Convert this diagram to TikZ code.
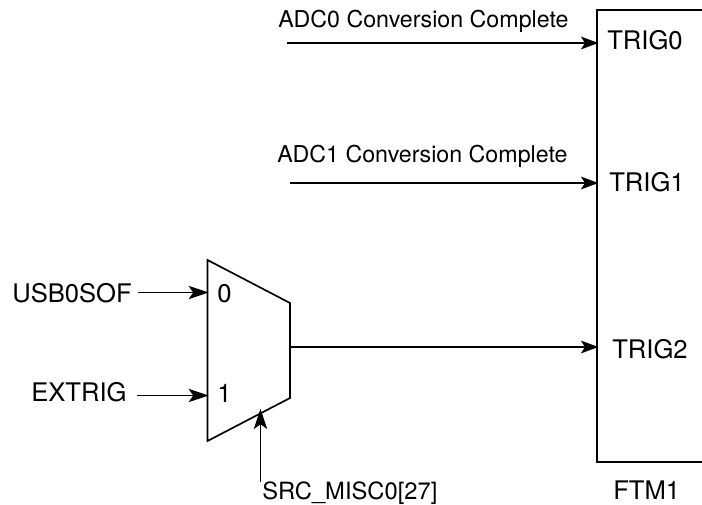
\documentclass[tikz,border=0pt]{standalone}
\usepackage{fontspec}
\setmainfont{TeX Gyre Heros}
\usetikzlibrary{arrows.meta}
\tikzset{
  px/.style={x=0.75pt,y=-0.75pt},
  lbl/.style={inner sep=0pt,font=\fontsize{19.2pt}{22pt}\selectfont,anchor=base west},
  adc/.style={lbl,font=\fontsize{17.4pt}{20pt}\selectfont},
  sel/.style={lbl,font=\fontsize{17.8pt}{20pt}\selectfont},
  wire/.style={line width=1.4pt,-{Stealth[length=13pt,width=9.5pt,inset=3pt]},shorten >=-1pt},
  thin wire/.style={line width=0.8pt,-{Stealth[length=15pt,width=10pt,inset=3.5pt]},shorten >=-0.8pt},
  shape line/.style={line width=1.25pt,line join=miter}
}
\begin{document}
\begin{tikzpicture}[px]
\useasboundingbox (0,0) rectangle (702,504);
\draw[shape line] (702,10) -- (597,10) -- (597,462) -- (702,462);
\draw[shape line] (207.5,260) -- (290,303) -- (290,398) -- (207.5,441) -- cycle;
\coordinate (m0) at (207.5,292.5);
\coordinate (m1) at (207.5,395.5);
\coordinate (mo) at (290,347);
\coordinate (ms) at (260.5,410);
\coordinate (t0) at (597,43);
\coordinate (t1) at (597,183);
\coordinate (t2) at (597,347);
\coordinate (a0) at (287,43);
\coordinate (a1) at (290,183);
\coordinate (u) at (138,292.5);
\coordinate (e) at (137,395.5);
\coordinate (s) at (260.5,482);
\draw[wire] (a0) -- (t0);
\draw[wire] (a1) -- (t1);
\draw[wire] (mo) -- (t2);
\draw[thin wire] (u) -- (m0);
\draw[thin wire] (e) -- (m1);
\draw[thin wire] (s) -- (ms);
\node[adc] (n1) at (278,27) {ADC0 Conversion Complete};
\node[adc] (n2) at (277,162) {ADC1 Conversion Complete};
\node[lbl] (n3) at (607,49) {TRIG0};
\node[lbl] (n4) at (609,191) {TRIG1};
\node[lbl] (n5) at (612,358) {TRIG2};
\node[lbl] (n6) at (12,302) {USB0SOF};
\node[lbl] (n7) at (31,401) {EXTRIG};
\node[lbl] (n8) at (217,302) {0};
\node[lbl] (n9) at (217,402) {1};
\node[sel] (n10) at (262,499) {SRC\_MISC0[27]};
\node[lbl] (n11) at (613,499) {FTM1};
\end{tikzpicture}
\end{document}
